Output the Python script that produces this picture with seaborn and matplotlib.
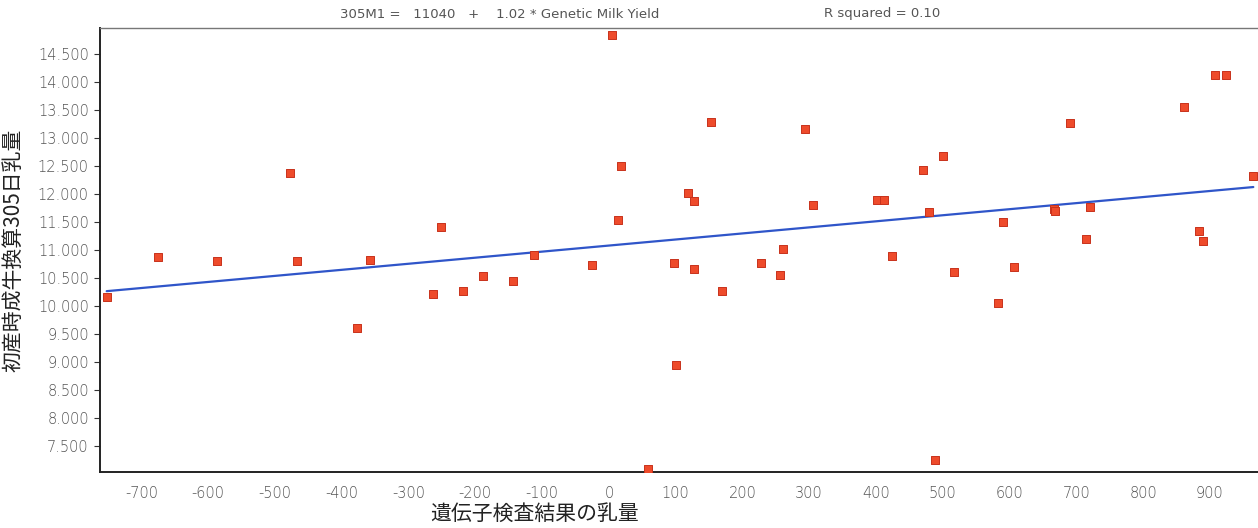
import matplotlib
matplotlib.use("Agg")
import matplotlib.pyplot as plt
import matplotlib.ticker as mticker
import seaborn as sns
import pandas as pd

genetic_milk = [-752, -675, -587, -477, -467, -377, -358, -264, -252, -218,
                -189, -144, -112, -25, 5, 13, 18, 58, 98, 101,
                119, 128, 128, 153, 170, 228, 256, 261, 294, 305,
                401, 412, 424, 470, 480, 488, 500, 517, 583, 590,
                606, 666, 668, 691, 714, 720, 861, 884, 889, 907,
                924, 965]
milk_305 = [10160, 10870, 10800, 12380, 10800, 9615, 10830, 10220, 11405, 10275,
            10540, 10445, 10910, 10735, 14830, 11540, 12500, 7090, 10760, 8945,
            12020, 11880, 10655, 13280, 10270, 10765, 10555, 11020, 13155, 11800,
            11895, 11895, 10890, 12420, 11670, 7260, 12670, 10605, 10060, 11500,
            10695, 11740, 11700, 13270, 11190, 11760, 13550, 11335, 11160, 14120,
            14120, 12320]

x_ticks = list(range(-700, 1000, 100))
y_ticks = list(range(7500, 15000, 500))
title_eq = "305M1 =   11040   +    1.02 * Genetic Milk Yield"
title_r2 = "R squared = 0.10"
x_label = "遺伝子検査結果の乳量"
y_label = "初産時成牛換算305日乳量"

df = pd.DataFrame({"g": genetic_milk, "m": milk_305})

sns.set_theme(style="white")
plt.rcParams['font.family'] = ['Noto Sans CJK JP', 'DejaVu Sans']
plt.rcParams['axes.unicode_minus'] = False

fig = plt.figure(figsize=(12.58, 5.28), dpi=100)
ax = fig.add_axes([100/1258, 1 - 472/528, 1 - 100/1258, (472 - 28)/528])

sns.regplot(data=df, x="g", y="m", ax=ax, ci=None, marker="s",
            scatter_kws=dict(s=26, color="#ee4b2b", edgecolors="#c8321c", linewidths=0.7, zorder=3, alpha=1),
            line_kws=dict(color="#2f55c9", lw=1.6, zorder=2))

ax.set_xlim(-762, 972)
ax.set_ylim(7040, 14960)
ax.set_xticks(x_ticks)
ax.set_yticks(y_ticks)
ax.xaxis.set_major_formatter(mticker.FuncFormatter(lambda v, p: f"{int(v)}"))
ax.yaxis.set_major_formatter(mticker.FuncFormatter(lambda v, p: f"{int(v):,}".replace(",", ".")))
ax.tick_params(axis="x", length=0, pad=10, labelsize=10.5, labelcolor="#555555")
ax.tick_params(axis="y", length=4, width=0.8, color="#333333", direction="out", pad=4,
               labelsize=10.5, labelcolor="#555555", left=True)
for lbl in ax.get_xticklabels() + ax.get_yticklabels():
    lbl.set_fontfamily(['DejaVu Sans'])
    lbl.set_fontweight('light')

for side in ["left", "bottom"]:
    ax.spines[side].set_color("#222222")
    ax.spines[side].set_linewidth(1.4)
ax.spines["top"].set_color("#777777")
ax.spines["top"].set_linewidth(1.0)
ax.spines["right"].set_visible(False)

ax.set_xlabel(x_label, fontsize=15, color="#222222", labelpad=4)
ax.xaxis.set_label_coords((535 - 100) / 1158, -0.07)
ax.set_ylabel(y_label, fontsize=15, color="#222222", labelpad=10)

fig.text(500 / 1258, 1 - 14 / 528, title_eq, ha="center", va="center", fontsize=9.5, color="#555555",
         family=['DejaVu Sans'])
fig.text(882 / 1258, 1 - 14 / 528, title_r2, ha="center", va="center", fontsize=9.5, color="#555555",
         family=['DejaVu Sans'])

fig.savefig("out.png", dpi=100, facecolor="white")
